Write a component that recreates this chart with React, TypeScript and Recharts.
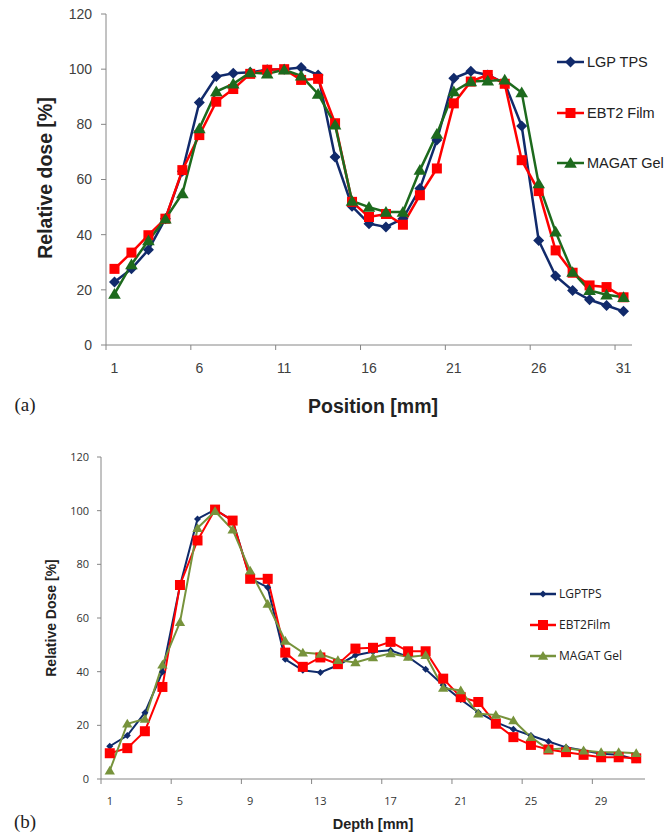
import { LineChart, Line, XAxis, YAxis, Legend } from "recharts";

// ---- data ----
const positions = [1, 2, 3, 4, 5, 6, 7, 8, 9, 10, 11, 12, 13, 14, 15, 16, 17, 18, 19, 20, 21, 22, 23, 24, 25, 26, 27, 28, 29, 30, 31];

// (a) lateral profile
const lgpA = [22.8, 27.6, 34.5, 45.8, 63, 87.9, 97.3, 98.5, 98.9, 99.8, 100, 100.6, 97.9, 68.2, 50.3, 44, 42.8, 45.8, 56.7, 74.3, 96.7, 99.2, 97.9, 94.9, 79.4, 37.9, 25, 19.8, 16.4, 14.3, 12.2];
const ebtA = [27.6, 33.5, 39.8, 45.8, 63.4, 76.1, 88.2, 92.8, 98.3, 99.8, 100, 96.1, 96.5, 80.4, 51.9, 46.4, 47.5, 43.6, 54.3, 64, 87.6, 95.5, 97.9, 94.7, 67, 55.8, 34.3, 26.2, 21.6, 21, 17.3];
const magatA = [18.5, 29.2, 37.9, 45.7, 54.9, 78.5, 91.9, 94.7, 98.8, 98.3, 99.8, 97.6, 91, 79.8, 52.2, 50, 48.2, 48.2, 63.4, 76.5, 91.9, 95.5, 95.8, 96.1, 91.5, 58.5, 41, 26.4, 19.8, 18.2, 17.3];

// (b) depth profile
const lgpB = [12.2, 16.2, 24.7, 39.9, 72, 96.9, 100.4, 96.3, 74.8, 71.4, 44.6, 40.5, 39.7, 42.4, 46.1, 47.4, 48, 45.5, 40.9, 34.9, 29.6, 24.9, 21.2, 18.5, 16.2, 14, 11.8, 10.6, 9.4, 9, 7.2];
const ebtB = [9.6, 11.5, 17.8, 34.3, 72.3, 88.9, 100.4, 96.3, 74.6, 74.6, 47.1, 41.8, 45.3, 42.8, 48.6, 48.9, 51.1, 47.6, 47.6, 37.4, 30.5, 28.7, 20.6, 15.6, 12.7, 11, 10, 9, 8.1, 8.1, 7.7];
const magatB = [3.1, 20.6, 22.4, 42.6, 58.4, 93.5, 99.8, 92.9, 77.6, 65.2, 51.5, 47.1, 46.6, 44.3, 43.4, 45.3, 46.8, 45.5, 46.1, 33.9, 33, 24.3, 23.9, 21.8, 15.6, 11, 11.5, 10.6, 10, 10, 9.6];

const yTicks = [0, 20, 40, 60, 80, 100, 120];
const xTicksA = [1, 6, 11, 16, 21, 26, 31];
const xTicksB = [1, 5, 9, 13, 17, 21, 25, 29];

const dataA = positions.map((p, i) => ({ pos: p, lgp: lgpA[i], ebt: ebtA[i], magat: magatA[i] }));
const dataB = positions.map((p, i) => ({ pos: p, lgp: lgpB[i], ebt: ebtB[i], magat: magatB[i] }));

type Shape = "diamond" | "square" | "triangle";

function mark(shape: Shape, cx: number, cy: number, s: number, color: string, key?: any) {
  if (shape === "diamond")
    return <path key={key} d={`M${cx},${cy - s}L${cx + s},${cy}L${cx},${cy + s}L${cx - s},${cy}Z`} fill={color} />;
  if (shape === "square")
    return <rect key={key} x={cx - s} y={cy - s} width={2 * s} height={2 * s} fill={color} />;
  return (
    <path key={key} d={`M${cx},${cy - s * 1.1}L${cx + s * 1.15},${cy + s * 0.85}L${cx - s * 1.15},${cy + s * 0.85}Z`} fill={color} />
  );
}

const dot = (shape: Shape, s: number, color: string) => (props: any) => {
  const { cx, cy, index } = props;
  if (cx == null || cy == null) return <g key={index} />;
  return mark(shape, cx, cy, s, color, index);
};

const seriesA = [
  { key: "lgp", name: "LGP TPS", color: "#112a6b", shape: "diamond" as Shape, size: 5.5 },
  { key: "ebt", name: "EBT2 Film", color: "#ff0000", shape: "square" as Shape, size: 5 },
  { key: "magat", name: "MAGAT Gel", color: "#1d6a1d", shape: "triangle" as Shape, size: 5.5 },
];

const seriesB = [
  { key: "lgp", name: "LGPTPS", color: "#0f2a6a", shape: "diamond" as Shape, size: 3.5 },
  { key: "ebt", name: "EBT2Film", color: "#ff0000", shape: "square" as Shape, size: 5 },
  { key: "magat", name: "MAGAT Gel", color: "#77933c", shape: "triangle" as Shape, size: 4.5 },
];

const xTick = (halfStep: number, dy: number, font: any) => (props: any) => {
  const { x, y, payload } = props;
  return (
    <g>
      <line x1={x - halfStep} x2={x - halfStep} y1={y} y2={y + 5} stroke="#868686" />
      <text x={x} y={y + dy} textAnchor="middle" dominantBaseline="central" {...font}>
        {payload.value}
      </text>
    </g>
  );
};

function LegendBox({ series, itemH, fontSize, font, lineW }: any) {
  return (
    <div>
      {series.map((s: any) => (
        <div key={s.key} style={{ height: itemH, display: "flex", alignItems: "center" }}>
          <svg width={lineW} height={16}>
            <line x1={0} x2={lineW} y1={8} y2={8} stroke={s.color} strokeWidth={2.5} />
            {mark(s.shape, lineW / 2, 8, s.size, s.color)}
          </svg>
          <span style={{ marginLeft: 3, fontSize, fontFamily: font, color: "#222", whiteSpace: "nowrap" }}>{s.name}</span>
        </div>
      ))}
    </div>
  );
}

export default function App() {
  const fontA = { fontFamily: "Liberation Sans, Arial, sans-serif", fontSize: 14, fill: "#404040" };
  const fontB = { fontFamily: "Open Sans, sans-serif", fontSize: 11, fill: "#333" };
  return (
    <div style={{ position: "absolute", left: 0, top: 0, width: 670, height: 833, background: "#fff", overflow: "hidden" }}>
      {/* (a) */}
      <div style={{ position: "absolute", left: 0, top: 0 }}>
        <LineChart width={670} height={440} data={dataA} margin={{ top: 14, right: 38, bottom: 65, left: 46 }}>
          <XAxis
            dataKey="pos"
            type="number"
            domain={[0.5, 31.5]}
            ticks={xTicksA}
            height={30}
            tickSize={0}
            tickMargin={0}
            stroke="#868686"
            tick={xTick(526 / 31 / 2, 23, fontA)}
          />
          <YAxis
            domain={[0, 120]}
            ticks={yTicks}
            width={60}
            tickSize={5}
            tickMargin={9}
            stroke="#868686"
            tick={fontA}
          />
          <Legend
            layout="vertical"
            align="center"
            verticalAlign="middle"
            wrapperStyle={{ left: 557, top: 37, width: 113 }}
            content={() => (
              <LegendBox series={seriesA} itemH={50.5} fontSize={14.5} font="Liberation Sans, Arial, sans-serif" lineW={27} />
            )}
          />
          {seriesA.map((s) => (
            <Line
              key={s.key}
              dataKey={s.key}
              name={s.name}
              stroke={s.color}
              strokeWidth={2.5}
              dot={dot(s.shape, s.size, s.color)}
              activeDot={false}
              isAnimationActive={false}
            />
          ))}
        </LineChart>
      </div>

      {/* (b) */}
      <div style={{ position: "absolute", left: 0, top: 440 }}>
        <LineChart width={670} height={393} data={dataB} margin={{ top: 17, right: 25, bottom: 29, left: 51 }}>
          <XAxis
            dataKey="pos"
            type="number"
            domain={[0.5, 31.5]}
            ticks={xTicksB}
            height={25}
            tickSize={0}
            tickMargin={0}
            stroke="#868686"
            tick={xTick(544 / 31 / 2, 21, fontB)}
          />
          <YAxis
            domain={[0, 120]}
            ticks={yTicks}
            width={50}
            tickSize={4}
            tickMargin={8}
            stroke="#868686"
            tick={fontB}
          />
          <Legend
            layout="vertical"
            align="center"
            verticalAlign="middle"
            wrapperStyle={{ left: 530, top: 138, width: 140 }}
            content={() => (
              <LegendBox series={seriesB} itemH={31} fontSize={12} font="Open Sans, sans-serif" lineW={26} />
            )}
          />
          {seriesB.map((s) => (
            <Line
              key={s.key}
              dataKey={s.key}
              name={s.name}
              stroke={s.color}
              strokeWidth={2}
              dot={dot(s.shape, s.size, s.color)}
              activeDot={false}
              isAnimationActive={false}
            />
          ))}
        </LineChart>
      </div>

      {/* titles */}
      <div style={{ position: "absolute", left: 45, top: 178, transform: "translate(-50%,-50%) rotate(-90deg)", fontFamily: "Liberation Sans, Arial, sans-serif", fontWeight: "bold", fontSize: 19.5, color: "#222", whiteSpace: "nowrap" }}>
        Relative dose [%]
      </div>
      <div style={{ position: "absolute", left: 373, top: 406, transform: "translate(-50%,-50%)", fontFamily: "Liberation Sans, Arial, sans-serif", fontWeight: "bold", fontSize: 19.5, color: "#222", whiteSpace: "nowrap" }}>
        Position [mm]
      </div>
      <div style={{ position: "absolute", left: 25, top: 405, transform: "translate(-50%,-50%)", fontFamily: "Liberation Serif, serif", fontSize: 19, color: "#222" }}>
        (a)
      </div>
      <div style={{ position: "absolute", left: 51, top: 618, transform: "translate(-50%,-50%) rotate(-90deg)", fontFamily: "Liberation Sans, Arial, sans-serif", fontWeight: "bold", fontSize: 14, color: "#222", whiteSpace: "nowrap" }}>
        Relative Dose [%]
      </div>
      <div style={{ position: "absolute", left: 373, top: 824, transform: "translate(-50%,-50%)", fontFamily: "Liberation Sans, Arial, sans-serif", fontWeight: "bold", fontSize: 14.5, color: "#222", whiteSpace: "nowrap" }}>
        Depth [mm]
      </div>
      <div style={{ position: "absolute", left: 25, top: 822, transform: "translate(-50%,-50%)", fontFamily: "Liberation Serif, serif", fontSize: 19, color: "#222" }}>
        (b)
      </div>
    </div>
  );
}
